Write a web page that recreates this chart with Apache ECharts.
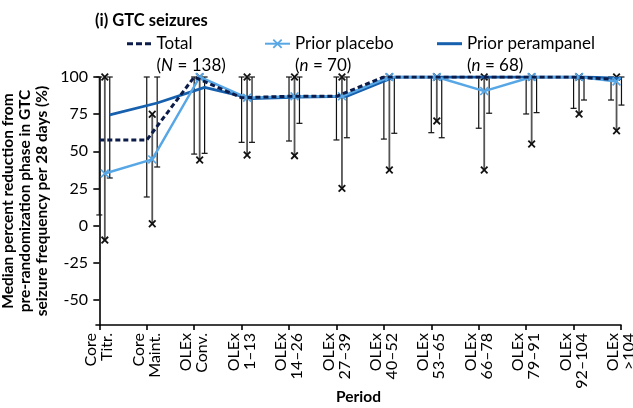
<!DOCTYPE html>
<html><head><meta charset="utf-8">
<script src="https://cdn.jsdelivr.net/npm/echarts@6/dist/echarts.min.js"></script>
<style>html,body{margin:0;padding:0;background:#fff}#c{width:633px;height:408px}</style>
</head><body><div id="c"></div>
<script>
// ---- data ----
const periodLine1 = ['Core','Core','OLEx','OLEx','OLEx','OLEx','OLEx','OLEx','OLEx','OLEx','OLEx','OLEx'];
const periodLine2 = ['Titr.','Maint.','Conv.','1–13','14–26','27–39','40–52','53–65','66–78','79–91','92–104','>104'];
const yTickValues = [-50, -25, 0, 25, 50, 75, 100];

const totalMedian = [57.5, 57.5, 100, 86, 87, 87, 100, 100, 100, 100, 100, 98.5];
const totalLow    = [7.1, 19.2, 48.1, 56, 56.9, 57.6, 58.2, 62.5, 65.5, 75.1, 78.9, 84.5];
const totalHigh   = [100, 100, 100, 100, 100, 100, 100, 100, 100, 100, 100, 100];

const placeboMedian = [35, 44.5, 100, 86, 87, 87, 100, 100, 90.5, 100, 100, 97];
const placeboLow    = [-9.8, 1.2, 44.1, 47.5, 47, 25, 37.4, 70.4, 37.4, 54.9, 75.1, 63.8];
const placeboHigh   = [100, 74.9, 100, 100, 100, 100, 100, 100, 100, 100, 100, 100];

const perampanelMedian = [74.5, 82.5, 93, 85.5, 86.5, 87, 100, 100, 100, 100, 100, 99];
const perampanelLow    = [32, 39.4, 48.6, 56, 68.8, 59.1, 62.1, 59.1, 75.6, 76, 84.5, 81.1];
const perampanelHigh   = [100, 100, 100, 100, 100, 100, 100, 100, 100, 100, 100, 100];

// ---- styling ----
const FONT = 'Lato';
const C_TOTAL = '#0c1c4a';
const C_PLAC = '#57a7e6';
const C_PERA = '#1660ae';
const OFF_TOTAL = 0, OFF_PLAC = 0.116, OFF_PERA = 0.22;
// the last period's marks sit slightly left of its tick in the original layout
const groupNudge = i => (i === periodLine1.length - 1 ? -0.21 : 0);
const X_PATH = 'path://M0,1.3L1.3,0L5,3.7L8.7,0L10,1.3L6.3,5L10,8.7L8.7,10L5,6.3L1.3,10L0,8.7L3.7,5Z';
const DASH_ICON = 'path://M0,0h6v3h-6zM9,0h6v3h-6zM18,0h6v3h-6z';

const idx = periodLine1.map((_, i) => i);

function barSeries(low, high, offset, kind) {
  return {
    type: 'custom',
    coordinateSystem: 'cartesian2d',
    silent: true, z: 1,
    encode: { x: 0, y: [1, 2] },
    data: idx.map(i => [i, low[i], high[i]]),
    renderItem: function (params, api) {
      const i = api.value(0);
      const x = i + offset + groupNudge(i);
      const lo = api.coord([x, api.value(1)]);
      const hi = api.coord([x, api.value(2)]);
      const ch = [];
      if (kind === 'cap') {
        const st = { stroke: '#111', lineWidth: 1.2 };
        ch.push({ type: 'line', shape: { x1: lo[0], y1: lo[1], x2: hi[0], y2: hi[1] }, style: st });
        ch.push({ type: 'line', shape: { x1: lo[0] - 3, y1: lo[1], x2: lo[0] + 3, y2: lo[1] }, style: st });
        ch.push({ type: 'line', shape: { x1: hi[0] - 3, y1: hi[1], x2: hi[0] + 3, y2: hi[1] }, style: st });
      } else {
        ch.push({ type: 'line', shape: { x1: lo[0], y1: lo[1], x2: hi[0], y2: hi[1] }, style: { stroke: '#555', lineWidth: 1.8 } });
        [lo, hi].forEach(p => {
          const s = 3.3, st = { stroke: '#111', lineWidth: 1.8 };
          ch.push({ type: 'line', shape: { x1: p[0] - s, y1: p[1] - s, x2: p[0] + s, y2: p[1] + s }, style: st });
          ch.push({ type: 'line', shape: { x1: p[0] - s, y1: p[1] + s, x2: p[0] + s, y2: p[1] - s }, style: st });
        });
      }
      return { type: 'group', children: ch };
    }
  };
}

function legendFor(name, sub, ital, left, icon, ih) {
  const item = icon ? { name: name, icon: icon } : { name: name };
  return {
    data: [item], left: left, top: 11, padding: 0,
    itemWidth: 25, itemHeight: ih, selectedMode: false,
    formatter: () => '{s| }\n{a|' + name + '}\n{b|(}{i|' + ital + '}{b| = ' + sub + ')}',
    textStyle: {
      fontFamily: FONT, fontSize: 17, color: '#000', lineHeight: 21.8,
      rich: {
        s: { fontSize: 17, lineHeight: 21.8 },
        a: { fontFamily: FONT, fontSize: 17, lineHeight: 21.8, color: '#000' },
        b: { fontFamily: FONT, fontSize: 17, lineHeight: 21.8, color: '#000' },
        i: { fontFamily: FONT, fontSize: 17, lineHeight: 21.8, color: '#000', fontStyle: 'italic' }
      }
    }
  };
}

const chart = echarts.init(document.getElementById('c'), null, { renderer: 'canvas' });
chart.setOption({
  animation: false,
  backgroundColor: '#fff',
  title: {
    text: '(i) GTC seizures', left: 95, top: 12, padding: 0,
    textStyle: { fontFamily: FONT, fontWeight: 'bold', fontSize: 16.5, color: '#000' }
  },
  legend: [
    legendFor('Total', '138', 'N', 127, DASH_ICON, 3),
    legendFor('Prior placebo', '70', 'n', 264, null, 12),
    legendFor('Prior perampanel', '68', 'n', 437, 'rect', 3)
  ],
  grid: { left: 96, right: 12, top: 77, bottom: 83, containLabel: false, outerBoundsMode: 'none' },
  xAxis: {
    type: 'value', min: -0.07, max: 11,
    name: 'Period', nameLocation: 'middle', nameGap: 64, nameMoveOverlap: false,
    nameTextStyle: { fontFamily: FONT, fontWeight: 'bold', fontSize: 15.5, color: '#000' },
    axisLine: { show: true, onZero: false, lineStyle: { color: '#000', width: 1.6 } },
    axisTick: { show: true, length: 5, customValues: idx, lineStyle: { color: '#000', width: 1.6 } },
    axisLabel: {
      customValues: idx, rotate: 90, margin: 8, verticalAlign: 'middle',
      fontFamily: FONT, fontSize: 16, lineHeight: 16, color: '#000',
      formatter: v => periodLine1[Math.round(v)] + '\n' + periodLine2[Math.round(v)]
    },
    splitLine: { show: false }
  },
  yAxis: {
    type: 'value', min: -67, max: 100,
    name: 'Median percent reduction from\npre-randomization phase in GTC\nseizure frequency per 28 days (%)',
    nameLocation: 'middle', nameGap: 46, nameMoveOverlap: false,
    nameTextStyle: { fontFamily: FONT, fontWeight: 'bold', fontSize: 15.5, lineHeight: 17, color: '#000' },
    axisLine: { show: true, lineStyle: { color: '#000', width: 1.6 } },
    axisTick: { show: true, length: 6, customValues: yTickValues, lineStyle: { color: '#000', width: 1.6 } },
    axisLabel: { customValues: yTickValues, margin: 8, fontFamily: FONT, fontSize: 16, color: '#000' },
    splitLine: { show: false }
  },
  series: [
    barSeries(totalLow, totalHigh, OFF_TOTAL, 'cap'),
    barSeries(placeboLow, placeboHigh, OFF_PLAC, 'x'),
    barSeries(perampanelLow, perampanelHigh, OFF_PERA, 'cap'),
    {
      name: 'Prior perampanel', type: 'line', z: 3,
      data: idx.map(i => [i + OFF_PERA + groupNudge(i), perampanelMedian[i]]),
      symbol: 'none', lineStyle: { color: C_PERA, width: 2.8 }, itemStyle: { color: C_PERA }
    },
    {
      name: 'Prior placebo', type: 'line', z: 4,
      data: idx.map(i => [i + OFF_PLAC + groupNudge(i), placeboMedian[i]]),
      symbol: X_PATH, symbolSize: 9, showSymbol: true,
      lineStyle: { color: C_PLAC, width: 2.5 }, itemStyle: { color: C_PLAC }
    },
    {
      name: 'Total', type: 'line', z: 5,
      data: idx.map(i => [i + OFF_TOTAL + groupNudge(i), totalMedian[i]]),
      symbol: 'none', lineStyle: { color: C_TOTAL, width: 3, type: [5, 3] }, itemStyle: { color: C_TOTAL }
    }
  ]
});
</script>
</body></html>
